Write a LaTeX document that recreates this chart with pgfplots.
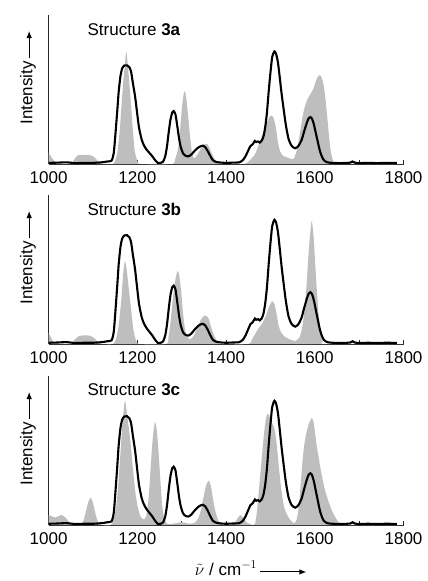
\documentclass[border=0pt]{standalone}
\usepackage{fontspec}
\setmainfont{Liberation Sans}
\usepackage{pgfplots}
\pgfplotsset{compat=1.18}
\usepackage{pgfplotstable}
\usetikzlibrary{arrows.meta}

\definecolor{calcgray}{RGB}{190,190,190}

% experimental spectrum (same in all panels), normalised to the 1509 band
\pgfplotstableread{
x y
1000 0.010
1020 0.012
1040 0.015
1060 0.008
1080 0.010
1100 0.010
1120 0.015
1132 0.022
1142 0.030
1147 0.100
1151 0.280
1155 0.480
1158 0.640
1162 0.780
1166 0.850
1171 0.875
1177 0.876
1182 0.860
1186 0.820
1190 0.720
1195 0.600
1200 0.440
1204 0.320
1210 0.215
1215 0.165
1221 0.127
1228 0.095
1234 0.068
1240 0.035
1246 0.010
1252 0.008
1258 0.020
1263 0.070
1267 0.160
1271 0.290
1275 0.400
1279 0.460
1282 0.470
1286 0.440
1290 0.340
1294 0.230
1298 0.150
1303 0.095
1308 0.075
1315 0.068
1322 0.085
1330 0.120
1337 0.145
1344 0.160
1348 0.163
1353 0.150
1358 0.120
1364 0.075
1370 0.035
1378 0.018
1390 0.012
1400 0.010
1415 0.012
1430 0.015
1438 0.035
1444 0.070
1450 0.120
1455 0.160
1460 0.175
1465 0.205
1468 0.195
1472 0.200
1476 0.190
1480 0.205
1484 0.240
1488 0.320
1492 0.450
1496 0.640
1500 0.810
1504 0.950
1509 1.000
1513 0.975
1517 0.900
1521 0.770
1525 0.630
1530 0.480
1535 0.340
1541 0.220
1548 0.160
1556 0.140
1563 0.160
1570 0.210
1576 0.290
1582 0.365
1586 0.405
1590 0.417
1594 0.400
1598 0.350
1602 0.280
1606 0.210
1610 0.140
1614 0.085
1620 0.036
1628 0.015
1640 0.010
1660 0.008
1680 0.012
1685 0.022
1690 0.012
1700 0.008
1720 0.010
1740 0.008
1760 0.010
1785 0.009
}\expdata

\pgfplotstableread{
x y
1000 0.10
1005 0.07
1012 0.03
1020 0.005
1050 0.0
1058 0.04
1065 0.075
1075 0.08
1090 0.08
1100 0.07
1108 0.04
1115 0.01
1122 0.0
1145 0.0
1150 0.03
1155 0.10
1160 0.28
1164 0.50
1168 0.72
1172 0.88
1175 1.00
1178 0.90
1182 0.72
1186 0.52
1190 0.30
1194 0.12
1200 0.03
1208 0.0
1278 0.0
1285 0.04
1292 0.14
1297 0.33
1301 0.52
1305 0.63
1307 0.645
1310 0.60
1314 0.45
1318 0.28
1323 0.10
1328 0.05
1335 0.08
1342 0.13
1350 0.17
1357 0.18
1363 0.14
1368 0.09
1375 0.04
1385 0.005
1440 0.0
1450 0.02
1460 0.06
1467 0.10
1478 0.22
1489 0.33
1497 0.41
1502 0.43
1507 0.41
1512 0.33
1516 0.22
1521 0.12
1528 0.075
1540 0.055
1552 0.045
1560 0.13
1566 0.26
1571 0.39
1577 0.50
1583 0.57
1590 0.62
1596 0.66
1601 0.72
1606 0.77
1611 0.79
1615 0.77
1620 0.70
1624 0.58
1628 0.42
1632 0.25
1636 0.11
1642 0.02
1650 0.0
1800 0.0
}\calcA

\pgfplotstableread{
x y
1000 0.09
1006 0.05
1015 0.005
1050 0.0
1058 0.03
1066 0.06
1080 0.07
1095 0.065
1105 0.04
1113 0.01
1120 0.0
1145 0.0
1152 0.04
1158 0.15
1164 0.36
1168 0.56
1172 0.668
1176 0.60
1181 0.44
1186 0.28
1191 0.12
1197 0.03
1205 0.0
1265 0.0
1270 0.05
1275 0.18
1280 0.36
1285 0.50
1289 0.57
1292 0.587
1295 0.54
1299 0.42
1303 0.25
1308 0.11
1314 0.05
1320 0.04
1328 0.07
1336 0.14
1344 0.20
1352 0.23
1360 0.21
1366 0.14
1373 0.07
1382 0.01
1390 0.0
1450 0.0
1459 0.04
1467 0.09
1474 0.13
1482 0.17
1489 0.22
1497 0.30
1504 0.345
1509 0.32
1513 0.26
1519 0.14
1525 0.09
1532 0.06
1545 0.035
1556 0.025
1565 0.05
1571 0.12
1576 0.25
1581 0.45
1585 0.68
1589 0.87
1593 0.99
1597 0.88
1601 0.64
1605 0.41
1609 0.22
1613 0.09
1618 0.02
1625 0.0
1800 0.0
}\calcB

\pgfplotstableread{
x y
1000 0.08
1008 0.07
1015 0.06
1022 0.07
1030 0.08
1038 0.06
1045 0.03
1052 0.005
1070 0.0
1078 0.03
1085 0.12
1090 0.19
1095 0.22
1100 0.18
1105 0.10
1112 0.02
1120 0.0
1140 0.0
1147 0.05
1152 0.14
1157 0.32
1162 0.58
1167 0.84
1172 1.00
1176 0.92
1181 0.78
1186 0.62
1190 0.46
1195 0.28
1200 0.16
1207 0.07
1214 0.045
1220 0.07
1225 0.20
1229 0.40
1233 0.62
1237 0.77
1240 0.83
1244 0.76
1248 0.58
1252 0.36
1256 0.16
1261 0.05
1268 0.01
1280 0.01
1295 0.02
1305 0.02
1318 0.01
1330 0.02
1338 0.06
1344 0.13
1349 0.22
1355 0.32
1361 0.357
1366 0.31
1371 0.20
1376 0.11
1382 0.04
1390 0.005
1410 0.0
1420 0.02
1427 0.06
1433 0.08
1440 0.05
1447 0.02
1455 0.005
1462 0.0
1466 0.02
1470 0.12
1474 0.28
1478 0.44
1482 0.60
1486 0.75
1490 0.86
1494 0.90
1498 0.87
1502 0.83
1507 0.80
1511 0.74
1515 0.62
1519 0.47
1523 0.33
1527 0.22
1532 0.13
1538 0.08
1545 0.04
1553 0.015
1559 0.04
1564 0.15
1568 0.32
1572 0.50
1576 0.64
1581 0.74
1586 0.81
1593 0.86
1597 0.83
1601 0.73
1605 0.62
1609 0.54
1613 0.45
1618 0.36
1623 0.28
1630 0.20
1638 0.12
1645 0.07
1652 0.03
1658 0.005
1665 0.0
1800 0.0
}\calcC

\newcommand{\lbl}{\fontsize{17}{20}\selectfont}

\pgfplotsset{
  spec/.style={
    scale only axis, width=355pt, height=149pt,
    xmin=1000, xmax=1800, ymin=0,
    axis x line*=bottom, axis y line*=left,
    axis line style={line width=1pt, black!85, -},
    ytick=\empty,
    xtick={1000,1200,...,1800}, minor xtick={1100,1300,1500,1700},
    xtick align=inside, major tick length=4pt, minor tick length=4pt,
    tick style={line width=1pt, black!85},
    xticklabel style={font=\lbl, yshift=-4pt},
    /pgf/number format/assume math mode=true,
    /pgf/number format/1000 sep={},
    ylabel={Intensity\,\usebox\yarr},
    ylabel style={at={(axis description cs:-0.058,0.58)}, anchor=center, font=\lbl},
    clip=false,
  },
  expline/.style={black, line width=2.1pt, smooth, tension=0.4},
  calcfill/.style={draw=none, fill=calcgray, smooth, tension=0.4},
}

\begin{document}
\newsavebox\yarr
\newsavebox\xarr
\sbox\yarr{\tikz[baseline=-0.6ex]\draw[line width=1pt,-{Latex[length=7pt,width=5.5pt]}] (0,0)--(27pt,0);}
\sbox\xarr{\tikz[baseline=-0.6ex]\draw[line width=1pt,-{Latex[length=7pt,width=5.5pt]}] (0,0)--(46pt,0);}
\begin{tikzpicture}
\path[use as bounding box] (-43pt,-417pt) rectangle (379pt,164pt);

\begin{axis}[spec, at={(0,0)}, anchor=south west, ymax=1.323]
\addplot[calcfill] table {\calcA} \closedcycle;
\addplot[expline] table {\expdata};
\node[anchor=west, font=\lbl] at (rel axis cs:0.1,0.9) {Structure \textbf{3a}};
\end{axis}

\begin{axis}[spec, at={(0,-180pt)}, anchor=south west, ymax=1.20]
\addplot[calcfill] table {\calcB} \closedcycle;
\addplot[expline] table {\expdata};
\node[anchor=west, font=\lbl] at (rel axis cs:0.1,0.9) {Structure \textbf{3b}};
\end{axis}

\begin{axis}[spec, at={(0,-361pt)}, anchor=south west, ymax=1.20,
  xlabel={$\tilde{\nu}$ / cm$^{-1}$\,\usebox\xarr},
  xlabel style={at={(axis description cs:0.57,-0.29)}, anchor=center, font=\lbl}]
\addplot[calcfill] table {\calcC} \closedcycle;
\addplot[expline] table {\expdata};
\node[anchor=west, font=\lbl] at (rel axis cs:0.1,0.91) {Structure \textbf{3c}};
\end{axis}
\end{tikzpicture}
\end{document}
